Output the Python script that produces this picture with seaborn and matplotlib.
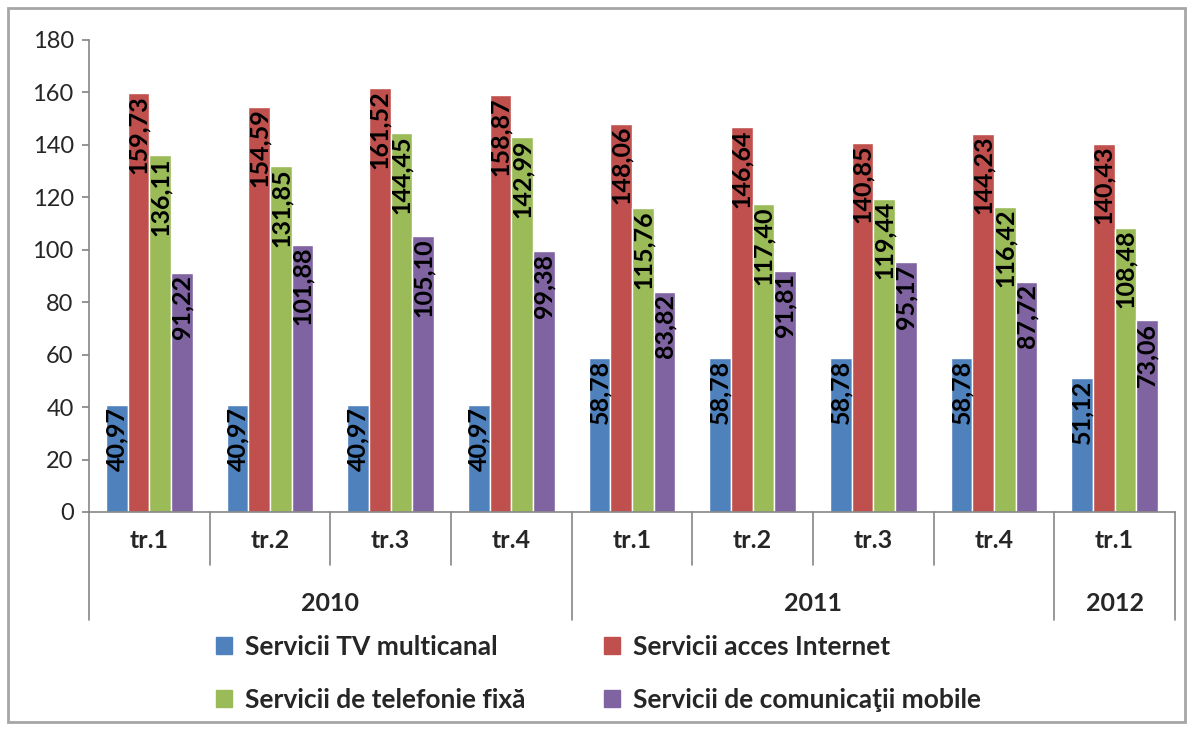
import pandas as pd
import matplotlib.pyplot as plt
import matplotlib.transforms as mtransforms
from matplotlib.patches import Rectangle
import seaborn as sns

quarters = ["tr.1", "tr.2", "tr.3", "tr.4", "tr.1", "tr.2", "tr.3", "tr.4", "tr.1"]
years = ["2010", "2011", "2012"]
year_spans = [(0, 4), (4, 8), (8, 9)]
series = [
    "Servicii TV multicanal",
    "Servicii acces Internet",
    "Servicii de telefonie fixă",
    "Servicii de comunicaţii mobile",
]
tv = [40.97, 40.97, 40.97, 40.97, 58.78, 58.78, 58.78, 58.78, 51.12]
internet = [159.73, 154.59, 161.52, 158.87, 148.06, 146.64, 140.85, 144.23, 140.43]
fixa = [136.11, 131.85, 144.45, 142.99, 115.76, 117.40, 119.44, 116.42, 108.48]
mobile = [91.22, 101.88, 105.10, 99.38, 83.82, 91.81, 95.17, 87.72, 73.06]
colors = ["#4F81BD", "#C0504D", "#9BBB59", "#8064A2"]

keys = [f"{i}_{q}" for i, q in enumerate(quarters)]
rows = []
for name, vals in zip(series, [tv, internet, fixa, mobile]):
    for k, v in zip(keys, vals):
        rows.append({"period": k, "service": name, "value": v})
df = pd.DataFrame(rows)

sns.set_theme(style="white")
plt.rcParams["font.family"] = ["Lato", "DejaVu Sans"]

fig = plt.figure(figsize=(11.92, 7.29), dpi=100)
ax = fig.add_axes([89 / 1192, 1 - 512 / 729, (1175 - 89) / 1192, (512 - 40) / 729])

sns.barplot(
    data=df,
    x="period",
    y="value",
    hue="service",
    hue_order=series,
    palette=colors,
    saturation=1,
    errorbar=None,
    width=0.72,
    edgecolor="white",
    linewidth=1,
    ax=ax,
    legend=False,
)

# value labels inside bar tops
for cont in ax.containers:
    for bar in cont:
        h = bar.get_height()
        ax.text(
            bar.get_x() + bar.get_width() / 2,
            h - 0.8,
            f"{h:.2f}".replace(".", ","),
            rotation=90,
            ha="center",
            va="top",
            fontsize=18,
            fontweight="bold",
            color="black",
        )

ax.set_ylim(0, 180)
ax.set_xlim(-0.5, len(quarters) - 0.5)
ax.set_yticks(range(0, 181, 20))
ax.tick_params(axis="y", labelsize=17, length=5, color="#868686", direction="out", left=True, pad=6)
ax.set_xticks([])
ax.set_xlabel("")
ax.set_ylabel("")
for s in ["top", "right"]:
    ax.spines[s].set_visible(False)
for s in ["left", "bottom"]:
    ax.spines[s].set_color("#868686")
    ax.spines[s].set_linewidth(1.2)

# multi-level category axis
trans = mtransforms.blended_transform_factory(ax.transData, ax.transAxes)
year_edges = {a for a, b in year_spans} | {b for a, b in year_spans}
for i in range(len(quarters) + 1):
    x = i - 0.5
    y_end = -0.229 if i in year_edges else -0.112
    ax.plot([x, x], [0, y_end], color="#868686", lw=1.2, transform=trans, clip_on=False)
for i, q in enumerate(quarters):
    ax.text(i, -0.061, q, transform=trans, ha="center", va="center",
            fontsize=18, fontweight="bold")
for yr, (a, b) in zip(years, year_spans):
    ax.text((a + b - 1) / 2, -0.193, yr, transform=trans, ha="center", va="center",
            fontsize=18, fontweight="bold")

# legend
handles = [Rectangle((0, 0), 1, 1, color=c) for c in colors]
order = [0, 2, 1, 3]
fig.legend(
    [handles[i] for i in order],
    [series[i] for i in order],
    ncol=2,
    loc="upper left",
    bbox_to_anchor=(192 / 1192, 1 - 611 / 729),
    frameon=False,
    prop={"size": 19, "weight": "bold"},
    handlelength=0.6,
    handleheight=0.6,
    handletextpad=0.5,
    labelspacing=1.1,
    columnspacing=3.0,
)

# outer chart border
fig.patches.append(Rectangle((8 / 1192, 7 / 729), 1177 / 1192, 714 / 729,
                             transform=fig.transFigure, fill=False,
                             edgecolor="#A6A6A6", linewidth=2))

fig.savefig("out.png", dpi=100)
